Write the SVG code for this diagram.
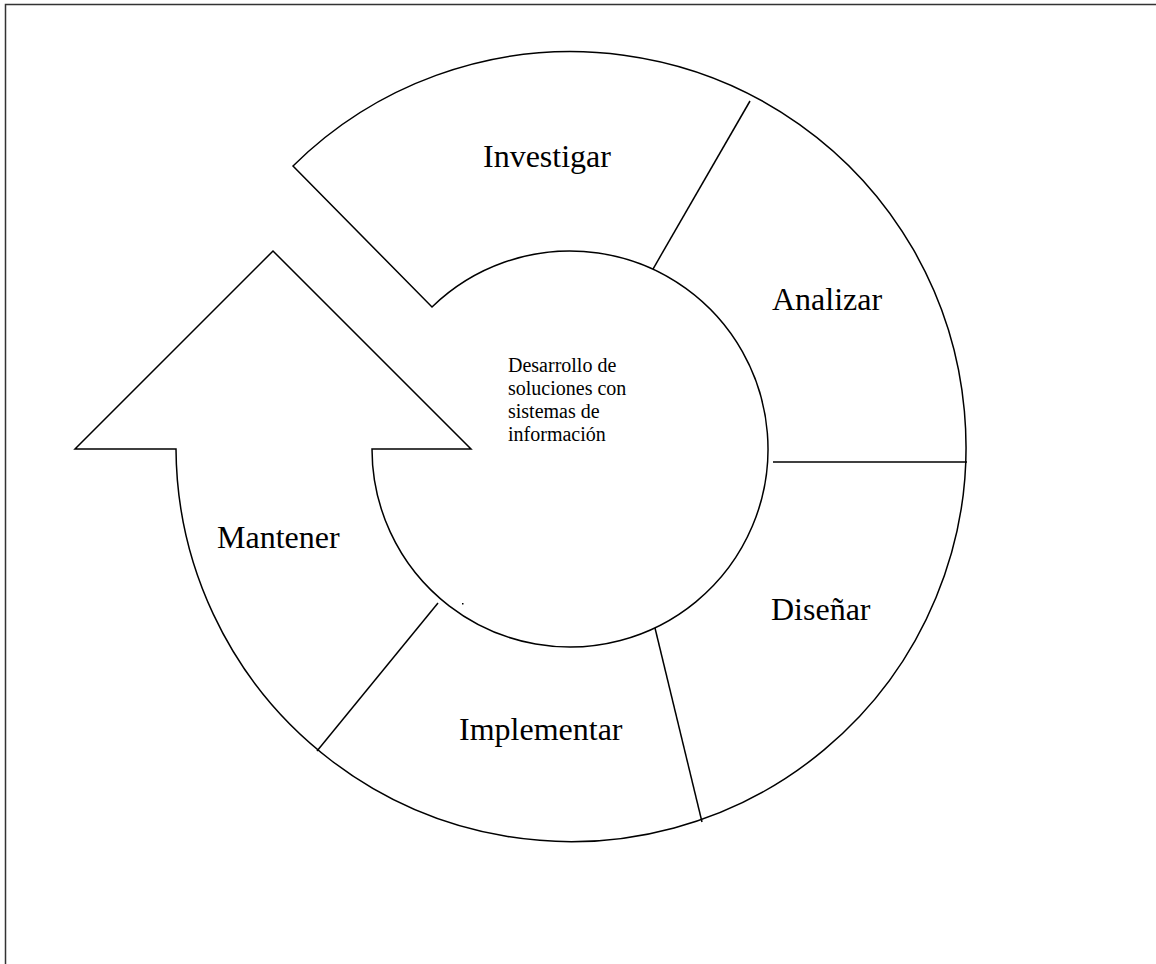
<svg xmlns="http://www.w3.org/2000/svg" width="1156" height="964" viewBox="0 0 1156 964">
<style>
.ln{fill:none;stroke:#000;stroke-width:1.5}
.lbl{font-family:"Liberation Serif","Times New Roman",serif;font-size:32px;fill:#000}
.ctr{font-family:"Liberation Serif","Times New Roman",serif;font-size:20px;fill:#000}
</style>
<rect x="0" y="0" width="1156" height="964" fill="#fff"/>
<path d="M5.5 964 L5.5 4.5 L1156 4.5" fill="none" stroke="#333" stroke-width="1.5"/>
<g id="cycle">
<path class="ln" fill="#fff" d="M176 449 L75 449 L273 251 L471 449 L372 449 A198 198 0 1 0 432 307 L293 166 A395 395 0 1 1 176 449 Z"/>
</g>
<g id="connectors">
<line class="ln" x1="750" y1="101" x2="653" y2="269"/>
<line class="ln" x1="773" y1="462" x2="967" y2="462"/>
<line class="ln" x1="655" y1="628" x2="702" y2="822"/>
<line class="ln" x1="438" y1="603" x2="317" y2="751"/>
<rect x="462" y="603" width="1.5" height="1.5" fill="#000"/>
</g>
<g id="investigar"><text class="lbl" x="483" y="167">Investigar</text></g>
<g id="analizar"><text class="lbl" x="772" y="310">Analizar</text></g>
<g id="disenar"><text class="lbl" x="771" y="620">Diseñar</text></g>
<g id="implementar"><text class="lbl" x="459" y="740">Implementar</text></g>
<g id="mantener"><text class="lbl" x="217" y="548">Mantener</text></g>
<g id="centro">
<text class="ctr" x="508" y="372">Desarrollo de</text>
<text class="ctr" x="508" y="395">soluciones con</text>
<text class="ctr" x="508" y="418">sistemas de</text>
<text class="ctr" x="508" y="441">información</text>
</g>
</svg>
